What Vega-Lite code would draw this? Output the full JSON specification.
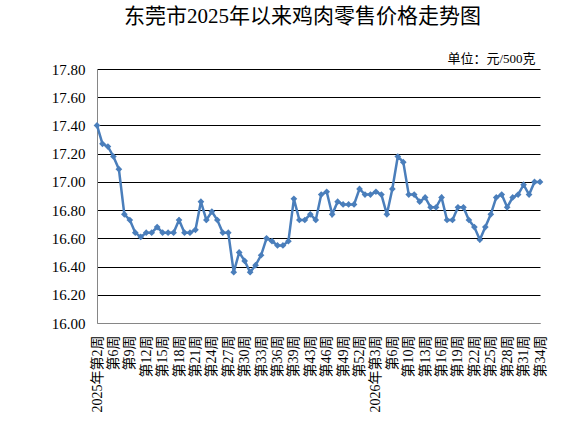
{
  "$schema": "https://vega.github.io/schema/vega-lite/v6.json",
  "width": 443,
  "height": 254,
  "autosize": "none",
  "padding": {"left": 97, "top": 69, "right": 39, "bottom": 112},
  "background": "white",
  "title": {
    "text": "东莞市2025年以来鸡肉零售价格走势图",
    "font": "'Times New Roman', 'Liberation Serif', 'Noto Sans CJK SC', serif",
    "fontSize": 21,
    "fontWeight": "normal",
    "color": "#000000",
    "anchor": "middle",
    "dx": -16,
    "offset": 25
  },
  "data": {
    "values": [
      {"wk": "2025年第2周", "price": 17.40},
      {"wk": "2025年第3周", "price": 17.27},
      {"wk": "2025年第5周", "price": 17.25},
      {"wk": "2025年第6周", "price": 17.18},
      {"wk": "2025年第7周", "price": 17.09},
      {"wk": "2025年第8周", "price": 16.77},
      {"wk": "2025年第9周", "price": 16.73},
      {"wk": "2025年第10周", "price": 16.64},
      {"wk": "2025年第11周", "price": 16.61},
      {"wk": "2025年第12周", "price": 16.64},
      {"wk": "2025年第13周", "price": 16.64},
      {"wk": "2025年第14周", "price": 16.68},
      {"wk": "2025年第15周", "price": 16.64},
      {"wk": "2025年第16周", "price": 16.64},
      {"wk": "2025年第17周", "price": 16.64},
      {"wk": "2025年第18周", "price": 16.73},
      {"wk": "2025年第19周", "price": 16.64},
      {"wk": "2025年第20周", "price": 16.64},
      {"wk": "2025年第21周", "price": 16.66},
      {"wk": "2025年第22周", "price": 16.86},
      {"wk": "2025年第23周", "price": 16.73},
      {"wk": "2025年第24周", "price": 16.79},
      {"wk": "2025年第25周", "price": 16.73},
      {"wk": "2025年第26周", "price": 16.64},
      {"wk": "2025年第27周", "price": 16.64},
      {"wk": "2025年第28周", "price": 16.36},
      {"wk": "2025年第29周", "price": 16.50},
      {"wk": "2025年第30周", "price": 16.44},
      {"wk": "2025年第31周", "price": 16.36},
      {"wk": "2025年第32周", "price": 16.41},
      {"wk": "2025年第33周", "price": 16.48},
      {"wk": "2025年第34周", "price": 16.60},
      {"wk": "2025年第35周", "price": 16.58},
      {"wk": "2025年第36周", "price": 16.55},
      {"wk": "2025年第37周", "price": 16.55},
      {"wk": "2025年第38周", "price": 16.58},
      {"wk": "2025年第39周", "price": 16.88},
      {"wk": "2025年第41周", "price": 16.73},
      {"wk": "2025年第42周", "price": 16.73},
      {"wk": "2025年第43周", "price": 16.77},
      {"wk": "2025年第44周", "price": 16.73},
      {"wk": "2025年第45周", "price": 16.91},
      {"wk": "2025年第46周", "price": 16.93},
      {"wk": "2025年第47周", "price": 16.77},
      {"wk": "2025年第48周", "price": 16.86},
      {"wk": "2025年第49周", "price": 16.84},
      {"wk": "2025年第50周", "price": 16.84},
      {"wk": "2025年第51周", "price": 16.84},
      {"wk": "2025年第52周", "price": 16.95},
      {"wk": "2026年第1周", "price": 16.91},
      {"wk": "2026年第2周", "price": 16.91},
      {"wk": "2026年第3周", "price": 16.93},
      {"wk": "2026年第4周", "price": 16.91},
      {"wk": "2026年第5周", "price": 16.77},
      {"wk": "2026年第6周", "price": 16.95},
      {"wk": "2026年第8周", "price": 17.18},
      {"wk": "2026年第9周", "price": 17.14},
      {"wk": "2026年第10周", "price": 16.91},
      {"wk": "2026年第11周", "price": 16.91},
      {"wk": "2026年第12周", "price": 16.86},
      {"wk": "2026年第13周", "price": 16.89},
      {"wk": "2026年第14周", "price": 16.82},
      {"wk": "2026年第15周", "price": 16.82},
      {"wk": "2026年第16周", "price": 16.89},
      {"wk": "2026年第17周", "price": 16.73},
      {"wk": "2026年第18周", "price": 16.73},
      {"wk": "2026年第19周", "price": 16.82},
      {"wk": "2026年第20周", "price": 16.82},
      {"wk": "2026年第21周", "price": 16.73},
      {"wk": "2026年第22周", "price": 16.68},
      {"wk": "2026年第23周", "price": 16.59},
      {"wk": "2026年第24周", "price": 16.68},
      {"wk": "2026年第25周", "price": 16.77},
      {"wk": "2026年第26周", "price": 16.89},
      {"wk": "2026年第27周", "price": 16.91},
      {"wk": "2026年第28周", "price": 16.82},
      {"wk": "2026年第29周", "price": 16.89},
      {"wk": "2026年第30周", "price": 16.91},
      {"wk": "2026年第31周", "price": 16.98},
      {"wk": "2026年第32周", "price": 16.91},
      {"wk": "2026年第33周", "price": 17.00},
      {"wk": "2026年第34周", "price": 17.00}
    ]
  },
  "mark": {
    "type": "line",
    "color": "#4A7EBB",
    "strokeWidth": 2.5,
    "point": {"shape": "diamond", "size": 45, "filled": true, "color": "#4A7EBB"}
  },
  "encoding": {
    "x": {
      "field": "wk",
      "type": "ordinal",
      "sort": null,
      "scale": {"type": "point", "padding": 0},
      "axis": {
        "title": null,
        "values": ["2025年第2周", "2025年第6周", "2025年第9周", "2025年第12周", "2025年第15周", "2025年第18周", "2025年第21周", "2025年第24周", "2025年第27周", "2025年第30周", "2025年第33周", "2025年第36周", "2025年第39周", "2025年第43周", "2025年第46周", "2025年第49周", "2025年第52周", "2026年第3周", "2026年第6周", "2026年第10周", "2026年第13周", "2026年第16周", "2026年第19周", "2026年第22周", "2026年第25周", "2026年第28周", "2026年第31周", "2026年第34周"],
        "labelExpr": "datum.value == '2025年第2周' || datum.value == '2026年第3周' ? datum.value : slice(datum.value, 5)",
        "labelAngle": -90,
        "labelAlign": "right",
        "labelBaseline": "middle",
        "labelFont": "'Times New Roman', 'Liberation Serif', 'Noto Sans CJK SC', serif",
        "labelFontSize": 14,
        "labelColor": "#000000",
        "labelPadding": 12,
        "labelOverlap": false,
        "labelBound": false,
        "ticks": false,
        "domainColor": "#868686",
        "domainWidth": 1,
        "grid": false,
        "zindex": 1
      }
    },
    "y": {
      "field": "price",
      "type": "quantitative",
      "scale": {"domain": [16, 17.8], "zero": false, "nice": false},
      "axis": {
        "values": [16, 16.2, 16.4, 16.6, 16.8, 17, 17.2, 17.4, 17.6, 17.8],
        "format": ".2f",
        "title": "单位：元/500克",
        "titleAngle": 0,
        "titleAlign": "right",
        "titleBaseline": "middle",
        "titleX": 438,
        "titleY": -11,
        "titleFont": "'Times New Roman', 'Liberation Serif', 'Noto Sans CJK SC', serif",
        "titleFontSize": 13,
        "titleFontWeight": "normal",
        "titleColor": "#000000",
        "labelFont": "'Times New Roman', 'Liberation Serif', serif",
        "labelFontSize": 15,
        "labelColor": "#000000",
        "labelPadding": 12,
        "ticks": false,
        "domainColor": "#868686",
        "domainWidth": 1,
        "grid": true,
        "gridColor": {"condition": {"test": "datum.value === 16", "value": "#868686"}, "value": "#000000"},
        "gridWidth": 1,
        "gridOpacity": 1
      }
    }
  },
  "config": {
    "view": {"stroke": null}
  }
}
